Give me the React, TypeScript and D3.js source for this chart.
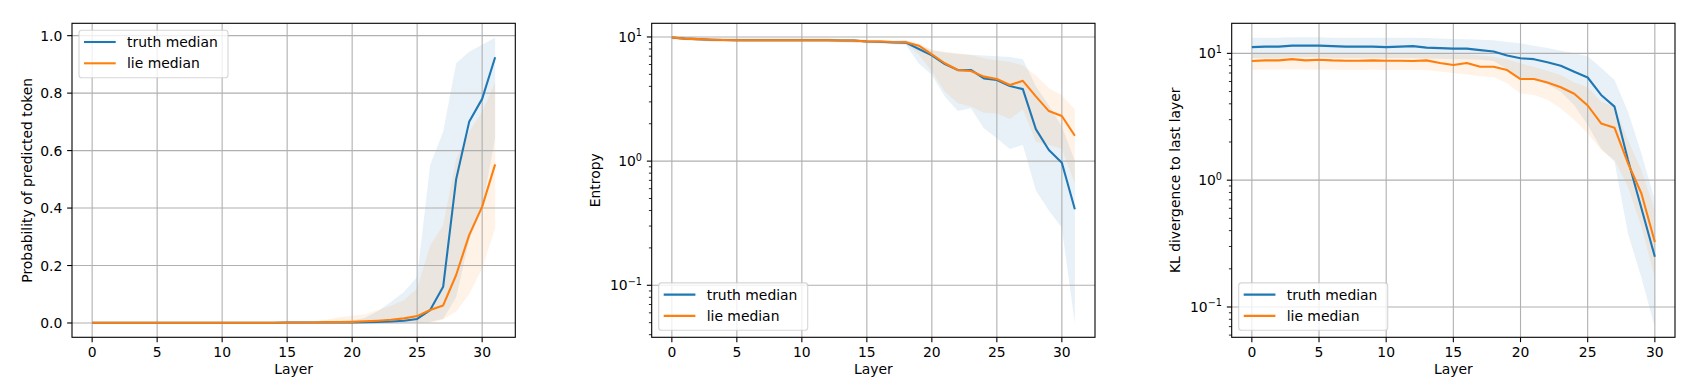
import React from 'react';
import * as d3 from 'd3';

// ---------- data ----------
const layers32 = [0,1,2,3,4,5,6,7,8,9,10,11,12,13,14,15,16,17,18,19,20,21,22,23,24,25,26,27,28,29,30,31];
const layers31 = [0,1,2,3,4,5,6,7,8,9,10,11,12,13,14,15,16,17,18,19,20,21,22,23,24,25,26,27,28,29,30];

const xTicks = [0, 5, 10, 15, 20, 25, 30];
const probTicks = [0, 0.2, 0.4, 0.6, 0.8, 1.0];
const probTickLabels = ['0.0', '0.2', '0.4', '0.6', '0.8', '1.0'];
const logTicks = [0.1, 1, 10];
const logTickExps = ['\u22121', '0', '1'];

const seriesNames = ['truth median', 'lie median'];

// Panel 1: probability of predicted token
const p1TruthMed = [0.001,0.001,0.001,0.001,0.001,0.001,0.001,0.001,0.001,0.001,0.001,0.001,0.001,0.001,0.001,0.0015,0.0015,0.0015,0.002,0.002,0.002,0.003,0.004,0.005,0.008,0.014,0.045,0.126,0.5,0.7,0.78,0.925];
const p1TruthHi = [0.003,0.003,0.003,0.003,0.003,0.003,0.003,0.003,0.003,0.003,0.003,0.003,0.003,0.003,0.003,0.003,0.003,0.003,0.004,0.005,0.008,0.018,0.042,0.074,0.109,0.16,0.55,0.666,0.904,0.944,0.968,0.993];
const p1TruthLo = [0.0002,0.0002,0.0002,0.0002,0.0002,0.0002,0.0002,0.0002,0.0002,0.0002,0.0002,0.0002,0.0002,0.0002,0.0002,0.0002,0.0002,0.0002,0.0002,0.0002,0.0002,0.0002,0.0002,0.0002,0.0002,0.0002,0.004,0.015,0.09,0.29,0.4,0.645];
const p1LieMed = [0.001,0.001,0.001,0.001,0.001,0.001,0.001,0.001,0.001,0.001,0.001,0.001,0.001,0.001,0.001,0.0015,0.0015,0.002,0.003,0.003,0.004,0.006,0.008,0.011,0.016,0.024,0.045,0.061,0.167,0.306,0.405,0.552];
const p1LieHi = [0.004,0.004,0.004,0.004,0.004,0.004,0.004,0.004,0.004,0.004,0.004,0.004,0.004,0.004,0.004,0.004,0.004,0.006,0.01,0.02,0.025,0.03,0.045,0.06,0.08,0.12,0.27,0.34,0.57,0.666,0.735,0.838];
const p1LieLo = [0.0004,0.0004,0.0004,0.0004,0.0004,0.0004,0.0004,0.0004,0.0004,0.0004,0.0004,0.0004,0.0004,0.0004,0.0004,0.0004,0.0004,0.0004,0.0004,0.0004,0.0004,0.0004,0.0004,0.0004,0.0004,0.0004,0.0004,0.012,0.04,0.1,0.19,0.33];

// Panel 2: entropy
const p2TruthMed = [9.9,9.7,9.6,9.5,9.45,9.4,9.4,9.4,9.4,9.4,9.4,9.4,9.4,9.35,9.35,9.2,9.15,9.05,9.0,8.0,7.1,6.05,5.4,5.42,4.64,4.5,4.03,3.8,1.81,1.23,0.97,0.41];
const p2TruthHi = [10.2,10.0,9.9,9.8,9.75,9.7,9.7,9.7,9.7,9.7,9.7,9.7,9.7,9.65,9.6,9.45,9.4,9.3,9.4,8.6,7.8,7.5,7.3,7.2,7.1,7.0,6.9,6.6,4.0,2.8,1.9,1.0];
const p2TruthLo = [9.6,9.4,9.3,9.2,9.15,9.1,9.1,9.1,9.1,9.1,9.1,9.1,9.1,9.05,9.0,8.9,8.85,8.75,8.6,6.1,4.94,3.31,2.53,2.67,1.84,1.53,1.25,1.35,0.58,0.4,0.29,0.049];
const p2LieMed = [9.9,9.7,9.6,9.5,9.45,9.4,9.4,9.4,9.4,9.4,9.4,9.4,9.4,9.35,9.35,9.2,9.2,9.1,9.06,8.5,7.25,6.14,5.42,5.32,4.79,4.59,4.1,4.43,3.32,2.53,2.31,1.6];
const p2LieHi = [10.2,10.0,9.9,9.8,9.75,9.7,9.7,9.7,9.7,9.7,9.7,9.7,9.7,9.65,9.6,9.5,9.45,9.35,9.46,8.9,7.86,7.6,7.4,7.17,6.73,6.5,6.3,5.9,4.9,3.86,3.4,2.6];
const p2LieLo = [9.6,9.4,9.3,9.2,9.15,9.1,9.1,9.1,9.1,9.1,9.1,9.1,9.1,9.05,9.0,8.9,8.9,8.8,8.8,7.2,5.27,3.63,2.93,2.75,2.45,2.42,2.18,2.62,1.43,1.35,1.26,0.66];

// Panel 3: KL divergence to last layer
const p3TruthMed = [11.2,11.3,11.3,11.5,11.5,11.5,11.4,11.3,11.3,11.3,11.2,11.3,11.4,11.1,11.0,10.9,10.9,10.6,10.35,9.6,9.15,9.0,8.5,7.98,7.17,6.45,4.7,3.8,1.44,0.6,0.249];
const p3TruthHi = [13.3,13.3,13.3,13.4,13.4,13.4,13.3,13.3,13.3,13.3,13.3,13.3,13.3,13.2,13.1,13.0,12.9,12.8,12.7,12.3,12.0,11.5,11.0,10.5,10.0,9.5,7.7,6.17,3.47,1.62,0.695];
const p3TruthLo = [9.2,9.2,9.2,9.3,9.3,9.3,9.2,9.2,9.2,9.2,9.2,9.2,9.2,9.1,9.05,9.0,9.0,8.9,8.7,7.5,6.36,6.2,5.7,4.98,3.9,2.72,1.78,1.4,0.38,0.17,0.069];
const p3LieMed = [8.7,8.8,8.8,9.0,8.8,8.9,8.8,8.75,8.75,8.8,8.75,8.75,8.7,8.8,8.4,8.1,8.4,7.85,7.85,7.38,6.27,6.27,5.9,5.4,4.8,3.88,2.8,2.59,1.36,0.785,0.326];
const p3LieHi = [10.0,10.0,10.0,10.1,10.0,10.0,10.0,10.0,10.0,10.0,10.0,10.0,10.0,10.0,9.9,9.8,9.8,9.6,9.4,9.0,8.3,7.85,7.25,6.74,5.9,5.4,4.15,3.8,2.07,1.2,0.58];
const p3LieLo = [7.4,7.45,7.45,7.5,7.45,7.45,7.45,7.4,7.4,7.45,7.4,7.4,7.4,7.4,7.2,7.0,6.8,6.6,6.5,5.8,4.83,4.7,4.3,3.68,2.98,2.34,1.73,1.44,0.885,0.43,0.17];

// ---------- styling ----------
const FONT = 'DejaVu Sans';
const FS = 13.9;
const BLUE = '#1f77b4';
const ORANGE = '#ff7f0e';
const GRID = '#b0b0b0';

type Series = { x: number[]; med: number[]; lo: number[]; hi: number[]; color: string; name: string };

type PanelCfg = {
  left: number; right: number; top: number; bottom: number;
  xDomain: [number, number];
  log: boolean;
  yDomain: [number, number];
  ylabel: string;
  ylabelX: number;
  legendTop: boolean;
  series: Series[];
};

function Panel({ cfg }: { cfg: PanelCfg }) {
  const { left, right, top, bottom } = cfg;
  const x = d3.scaleLinear().domain(cfg.xDomain).range([left, right]);
  const y = cfg.log
    ? d3.scaleLog().domain(cfg.yDomain).range([bottom, top])
    : d3.scaleLinear().domain(cfg.yDomain).range([bottom, top]);

  const clipId = `clip-${Math.round(left)}`;

  const minor: number[] = [];
  if (cfg.log) {
    for (let d = -3; d <= 2; d++) {
      for (let k = 2; k <= 9; k++) {
        const v = k * Math.pow(10, d);
        if (v >= cfg.yDomain[0] && v <= cfg.yDomain[1]) minor.push(v);
      }
    }
  }

  const yTickVals = cfg.log ? logTicks : probTicks;

  const lw = 149, lh = 47.4, pad = 7;
  const lx = left + pad;
  const ly = cfg.legendTop ? top + pad : bottom - pad - lh;

  return (
    <g fontFamily={FONT}>
      <defs>
        <clipPath id={clipId}>
          <rect x={left} y={top} width={right - left} height={bottom - top} />
        </clipPath>
      </defs>
      <g clipPath={`url(#${clipId})`}>
        {cfg.series.map((s, i) => {
          const area = d3.area<number>()
            .x((_, j) => x(s.x[j]))
            .y0((_, j) => y(s.lo[j]))
            .y1((_, j) => y(s.hi[j]));
          return <path key={'a' + i} d={area(s.med) || ''} fill={s.color} fillOpacity={0.1} stroke="none" />;
        })}
        {xTicks.map((t) => (
          <line key={'gx' + t} x1={x(t)} x2={x(t)} y1={top} y2={bottom} stroke={GRID} strokeWidth={1.1} />
        ))}
        {yTickVals.map((t) => (
          <line key={'gy' + t} x1={left} x2={right} y1={y(t)} y2={y(t)} stroke={GRID} strokeWidth={1.1} />
        ))}
        {cfg.series.map((s, i) => {
          const line = d3.line<number>()
            .x((_, j) => x(s.x[j]))
            .y((v) => y(v));
          return <path key={'l' + i} d={line(s.med) || ''} fill="none" stroke={s.color} strokeWidth={2.08} strokeLinejoin="round" strokeLinecap="butt" />;
        })}
      </g>
      {/* spines */}
      <rect x={left} y={top} width={right - left} height={bottom - top} fill="none" stroke="#000" strokeWidth={1.1} />
      {/* x ticks */}
      {xTicks.map((t) => (
        <g key={'xt' + t}>
          <line x1={x(t)} x2={x(t)} y1={bottom} y2={bottom + 4.86} stroke="#000" strokeWidth={1.1} />
          <text x={x(t)} y={bottom + 19.2} fontSize={FS} textAnchor="middle" fill="#000">{t}</text>
        </g>
      ))}
      <text x={(left + right) / 2} y={374} fontSize={FS} textAnchor="middle" fill="#000">Layer</text>
      {/* y ticks */}
      {minor.map((t) => (
        <line key={'ym' + t} x1={left - 2.78} x2={left} y1={y(t)} y2={y(t)} stroke="#000" strokeWidth={0.83} />
      ))}
      {yTickVals.map((t, i) => (
        <g key={'yt' + t}>
          <line x1={left - 4.86} x2={left} y1={y(t)} y2={y(t)} stroke="#000" strokeWidth={1.1} />
          {cfg.log ? (
            <text x={left - 9.7} y={y(t) + 5} fontSize={FS} textAnchor="end" fill="#000">
              10<tspan dy={-5.6} fontSize={9.7}>{logTickExps[i]}</tspan>
            </text>
          ) : (
            <text x={left - 9.7} y={y(t) + 5} fontSize={FS} textAnchor="end" fill="#000">{probTickLabels[i]}</text>
          )}
        </g>
      ))}
      <text transform={`translate(${cfg.ylabelX},${(top + bottom) / 2}) rotate(-90)`} fontSize={FS} textAnchor="middle" fill="#000">{cfg.ylabel}</text>
      {/* legend */}
      <rect x={lx} y={ly} width={lw} height={lh} rx={2.8} ry={2.8} fill="#fff" fillOpacity={0.8} stroke="#cccccc" strokeOpacity={0.8} strokeWidth={1.1} />
      {cfg.series.map((s, i) => {
        const ry = ly + 11.7 + i * 21.3;
        return (
          <g key={'lg' + i}>
            <line x1={lx + 5} x2={lx + 36.7} y1={ry} y2={ry} stroke={s.color} strokeWidth={2.08} />
            <text x={lx + 48} y={ry + 5} fontSize={FS} fill="#000">{s.name}</text>
          </g>
        );
      })}
    </g>
  );
}

export default function App() {
  const panels: PanelCfg[] = [
    {
      left: 72, right: 515.3, top: 23.3, bottom: 337.3,
      xDomain: [-1.55, 32.55], log: false, yDomain: [-0.0498, 1.043],
      ylabel: 'Probability of predicted token', ylabelX: 31.5, legendTop: true,
      series: [
        { x: layers32, med: p1TruthMed, lo: p1TruthLo, hi: p1TruthHi, color: BLUE, name: seriesNames[0] },
        { x: layers32, med: p1LieMed, lo: p1LieLo, hi: p1LieHi, color: ORANGE, name: seriesNames[1] },
      ],
    },
    {
      left: 651.7, right: 1095, top: 23.3, bottom: 337.3,
      xDomain: [-1.55, 32.55], log: true, yDomain: [Math.pow(10, -1.419), Math.pow(10, 1.11)],
      ylabel: 'Entropy', ylabelX: 600.2, legendTop: false,
      series: [
        { x: layers32, med: p2TruthMed, lo: p2TruthLo, hi: p2TruthHi, color: BLUE, name: seriesNames[0] },
        { x: layers32, med: p2LieMed, lo: p2LieLo, hi: p2LieHi, color: ORANGE, name: seriesNames[1] },
      ],
    },
    {
      left: 1231.7, right: 1675, top: 23.3, bottom: 337.3,
      xDomain: [-1.5, 31.5], log: true, yDomain: [Math.pow(10, -1.239), Math.pow(10, 1.237)],
      ylabel: 'KL divergence to last layer', ylabelX: 1180.2, legendTop: false,
      series: [
        { x: layers31, med: p3TruthMed, lo: p3TruthLo, hi: p3TruthHi, color: BLUE, name: seriesNames[0] },
        { x: layers31, med: p3LieMed, lo: p3LieLo, hi: p3LieHi, color: ORANGE, name: seriesNames[1] },
      ],
    },
  ];

  return (
    <svg width={1699} height={390} style={{ position: 'absolute', left: 0, top: 0, background: '#fff' }}>
      <rect x={0} y={0} width={1699} height={390} fill="#fff" />
      {panels.map((p, i) => <Panel key={i} cfg={p} />)}
    </svg>
  );
}
